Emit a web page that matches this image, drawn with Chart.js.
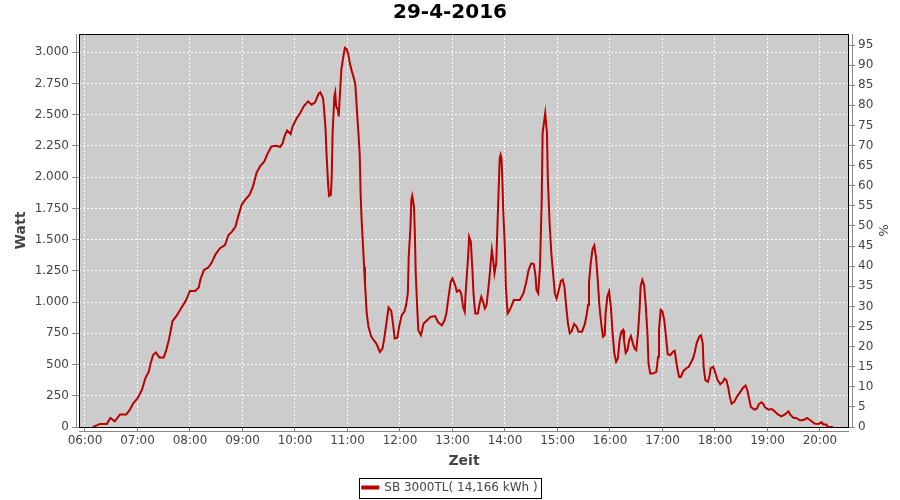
<!DOCTYPE html>
<html>
<head>
<meta charset="utf-8">
<title>29-4-2016</title>
<script src="https://cdn.jsdelivr.net/npm/chart.js@4.4.0/dist/chart.umd.min.js"></script>
<style>
  html, body { margin: 0; padding: 0; background: #fff; }
  #wrap { width: 900px; height: 500px; }
</style>
</head>
<body>
<div id="wrap"><canvas id="solarChart" width="900" height="500"></canvas></div>
<script>
// === DATA ===
const dayLabel = "29-4-2016";
const seriesName = "SB 3000TL( 14,166 kWh )";

const times = [
  "06:09","06:14","06:17","06:25","06:29","06:34","06:40","06:47","06:51","06:55",
  "07:00","07:05","07:09","07:13","07:15","07:18","07:21","07:25","07:30","07:33","07:36","07:40","07:45","07:49","07:55",
  "08:00","08:06","08:10","08:12","08:16","08:21","08:25","08:29","08:34","08:40","08:44","08:48","08:52","08:55","08:59",
  "09:03","09:08","09:12","09:16","09:20","09:25","09:28","09:33","09:39","09:43","09:46","09:48","09:51","09:55","09:57",
  "10:02","10:06","10:10","10:15","10:19","10:23","10:27","10:29","10:32","10:33","10:35","10:36","10:38","10:39","10:41","10:42","10:43","10:45","10:46","10:47","10:49","10:50","10:51","10:53","10:55","10:57","10:59",
  "11:01","11:03","11:05","11:07","11:09","11:11","11:13","11:14","11:15","11:16","11:17","11:19","11:20","11:22","11:24","11:27","11:30","11:33","11:37","11:40","11:42","11:45","11:47","11:50","11:52","11:54","11:57","11:59",
  "12:02","12:05","12:07","12:09","12:10","12:12","12:13","12:14","12:16","12:17","12:18","12:20","12:21","12:24","12:27","12:31","12:35","12:40","12:44","12:48","12:51","12:53","12:55","12:58",
  "13:00","13:03","13:05","13:08","13:10","13:12","13:14","13:15","13:18","13:19","13:21","13:23","13:24","13:26","13:29","13:31","13:33","13:35","13:37","13:39","13:42","13:44","13:45","13:47","13:48","13:50","13:51","13:53","13:54","13:55","13:56","13:57","13:58",
  "14:00","14:01","14:03","14:05","14:07","14:10","14:13","14:17","14:21","14:24","14:27","14:30","14:33","14:35","14:36","14:38","14:40","14:42","14:43","14:45","14:46","14:48","14:49","14:51","14:53","14:55","14:57","14:59",
  "15:02","15:04","15:06","15:08","15:10","15:12","15:14","15:16","15:19","15:22","15:24","15:28","15:31","15:33","15:35","15:36","15:38","15:40","15:42","15:44","15:46","15:48","15:50","15:52","15:54","15:55","15:57","15:59",
  "16:01","16:03","16:05","16:07","16:09","16:11","16:13","16:15","16:16","16:18","16:20","16:22","16:24","16:26","16:28","16:30","16:32","16:34","16:35","16:37","16:39","16:41","16:43","16:44","16:46","16:49","16:53","16:55","16:56","16:58",
  "17:00","17:02","17:04","17:06","17:09","17:12","17:14","17:15","17:17","17:19","17:21","17:24","17:27","17:30","17:33","17:35","17:37","17:39","17:42","17:44","17:46","17:47","17:49","17:52","17:54","17:55","17:58",
  "18:00","18:03","18:06","18:09","18:11","18:13","18:15","18:17","18:19","18:22","18:25","18:29","18:32","18:35","18:37","18:39","18:41","18:45","18:48","18:50","18:53","18:55","18:57",
  "19:01","19:04","19:06","19:09","19:12","19:16","19:20","19:24","19:26","19:30","19:33","19:37","19:40","19:43","19:45","19:49","19:52","19:54","19:58",
  "20:02","20:04","20:07","20:08","20:11","20:15"
];

const watts = [
  0,15,25,25,73,45,100,100,135,188,
  230,296,390,444,511,578,597,557,557,618,700,847,893,941,1008,
  1089,1089,1116,1183,1258,1277,1318,1380,1430,1457,1537,1564,1604,1684,1778,
  1818,1858,1925,2032,2086,2126,2179,2246,2251,2241,2273,2326,2374,2345,2401,
  2473,2513,2567,2607,2580,2599,2668,2679,2634,2567,2380,2192,1925,1850,1858,2005,2353,2647,2679,2567,2540,2487,2620,2861,2955,3035,3027,
  2981,2901,2848,2800,2741,2513,2300,2179,1872,1684,1550,1283,1150,909,802,727,695,668,601,628,708,855,957,930,829,708,714,802,
  896,923,976,1069,1364,1604,1818,1850,1765,1551,1230,909,775,735,829,855,882,888,834,815,855,909,1016,1163,
  1190,1136,1083,1096,1069,962,922,1069,1377,1524,1484,1230,1069,909,909,989,1043,1003,949,976,1176,1337,1417,1310,1230,1310,1524,1952,2150,2179,2152,1979,1738,
  1417,1123,909,930,962,1016,1016,1016,1069,1150,1257,1310,1305,1203,1096,1069,1283,1818,2353,2460,2513,2353,1979,1631,1390,1230,1069,1029,
  1110,1170,1180,1120,964,830,750,763,825,803,763,763,817,884,977,1152,1312,1420,1452,1366,1178,964,830,723,736,910,1044,1085,
  964,750,589,522,549,696,763,777,696,594,616,696,728,675,629,616,750,964,1125,1178,1138,964,723,509,428,428,441,562,776,937,
  924,857,723,583,575,602,610,562,468,401,401,449,468,482,522,550,600,670,723,734,670,482,375,361,415,469,482,
  442,375,343,361,388,375,321,241,187,201,241,281,313,332,294,227,160,139,147,182,198,187,160,
  139,144,139,120,101,85,101,126,99,72,72,54,54,62,72,54,38,27,24,
  38,21,21,5,0,0
];

// axis ranges (hours, watt, percent)
const timeRange = [5.886, 20.553];
const wattRange = [0, 3146];
const percentRange = [0, 97.75];

// === HELPERS ===
function toHours(t) {
  const [h, m] = t.split(":").map(Number);
  return h + m / 60;
}
function hourLabel(v) {
  return String(Math.round(v)).padStart(2, "0") + ":00";
}
function dotThousands(v) {
  return String(v).replace(/\B(?=(\d{3})+(?!\d))/g, ".");
}

const points = times.map((t, i) => ({ x: toHours(t), y: watts[i] }));

const FONT = "'DejaVu Sans', Verdana, sans-serif";
const TEXT = "#444444";
const LINE_RED = "#bb0000";

// === PLOT FRAME (grey background, black border, legend box) ===
const plotFrame = {
  id: "plotFrame",
  beforeDraw(chart) {
    const { ctx, chartArea: a } = chart;
    ctx.save();
    ctx.fillStyle = "#cccccc";
    ctx.fillRect(a.left, a.top, a.right - a.left, a.bottom - a.top);
    ctx.restore();
  },
  afterDatasetsDraw(chart) {
    const { ctx, chartArea: a } = chart;
    ctx.save();
    ctx.strokeStyle = "#000";
    ctx.lineWidth = 1;
    ctx.strokeRect(a.left + 0.5, a.top + 0.5, a.right - a.left - 1, a.bottom - a.top);
    ctx.strokeStyle = "#888";
    ctx.beginPath();
    ctx.moveTo(a.left - 2.5, a.top); ctx.lineTo(a.left - 2.5, a.bottom + 0.5);
    ctx.moveTo(a.left, a.bottom + 4.5); ctx.lineTo(a.right, a.bottom + 4.5);
    ctx.moveTo(a.right + 3.5, a.top); ctx.lineTo(a.right + 3.5, a.bottom + 0.5);
    ctx.stroke();
    ctx.restore();
  },
  afterDraw(chart) {
    const hb = chart.legend && chart.legend.legendHitBoxes && chart.legend.legendHitBoxes[0];
    if (!hb) return;
    const { ctx } = chart;
    const cy = hb.top + hb.height / 2;
    ctx.save();
    ctx.strokeStyle = "#000";
    ctx.lineWidth = 1;
    ctx.strokeRect(Math.round(hb.left - 3) + 0.5, Math.round(cy - 10) + 0.5, Math.round(hb.width + 7), 20);
    ctx.restore();
  }
};

// === CHART ===
new Chart(document.getElementById("solarChart"), {
  type: "line",
  data: {
    datasets: [{
      label: seriesName,
      data: points,
      borderColor: LINE_RED,
      backgroundColor: LINE_RED,
      borderWidth: 2,
      pointRadius: 0,
      tension: 0,
      fill: false,
      yAxisID: "y"
    }]
  },
  options: {
    responsive: false,
    animation: false,
    devicePixelRatio: 1,
    parsing: false,
    layout: { padding: { top: 0, left: 0, right: 0, bottom: -3.5 } },
    plugins: {
      title: {
        display: true,
        text: dayLabel,
        color: "#000",
        font: { family: FONT, size: 20, weight: "bold" },
        padding: { top: 1, bottom: 9 }
      },
      legend: {
        position: "bottom",
        labels: {
          color: TEXT,
          font: { family: FONT, size: 12 },
          boxWidth: 16,
          boxHeight: 2,
          padding: 10
        }
      },
      tooltip: { enabled: false }
    },
    scales: {
      x: {
        type: "linear",
        min: timeRange[0],
        max: timeRange[1],
        afterFit: s => { s.height = 44.5; },
        ticks: {
          stepSize: 1,
          includeBounds: false,
          autoSkip: false,
          maxRotation: 0,
          color: TEXT,
          padding: 2,
          font: { family: FONT, size: 12 },
          callback: hourLabel
        },
        grid: { color: "#ffffff", tickColor: "#888", tickLength: 5, tickBorderDash: [] },
        border: { display: false, dash: [2, 2] },
        title: {
          display: true,
          text: "Zeit",
          color: TEXT,
          font: { family: FONT, size: 14, weight: "bold" },
          padding: { top: 0, bottom: 2 }
        }
      },
      y: {
        position: "left",
        min: wattRange[0],
        max: wattRange[1],
        afterFit: s => { s.width = 79; },
        ticks: {
          stepSize: 250,
          includeBounds: false,
          color: TEXT,
          padding: 3,
          font: { family: FONT, size: 12 },
          callback: dotThousands
        },
        grid: { color: "#ffffff", tickColor: "#888", tickLength: 7, tickBorderDash: [] },
        border: { display: false, dash: [2, 2] },
        title: {
          display: true,
          text: "Watt",
          color: TEXT,
          font: { family: FONT, size: 14, weight: "bold" },
          padding: { top: 13, bottom: 0 }
        }
      },
      pct: {
        position: "right",
        min: percentRange[0],
        max: percentRange[1],
        afterFit: s => { s.width = 51; },
        ticks: {
          stepSize: 5,
          includeBounds: false,
          autoSkip: false,
          color: TEXT,
          padding: 3,
          font: { family: FONT, size: 12 }
        },
        grid: { drawOnChartArea: false, color: "#888", tickColor: "#888", tickLength: 6 },
        border: { display: false },
        title: {
          display: true,
          text: "%",
          color: TEXT,
          font: { family: FONT, size: 13 },
          padding: { top: 10, bottom: 0 }
        }
      }
    }
  },
  plugins: [plotFrame]
});
</script>
</body>
</html>
